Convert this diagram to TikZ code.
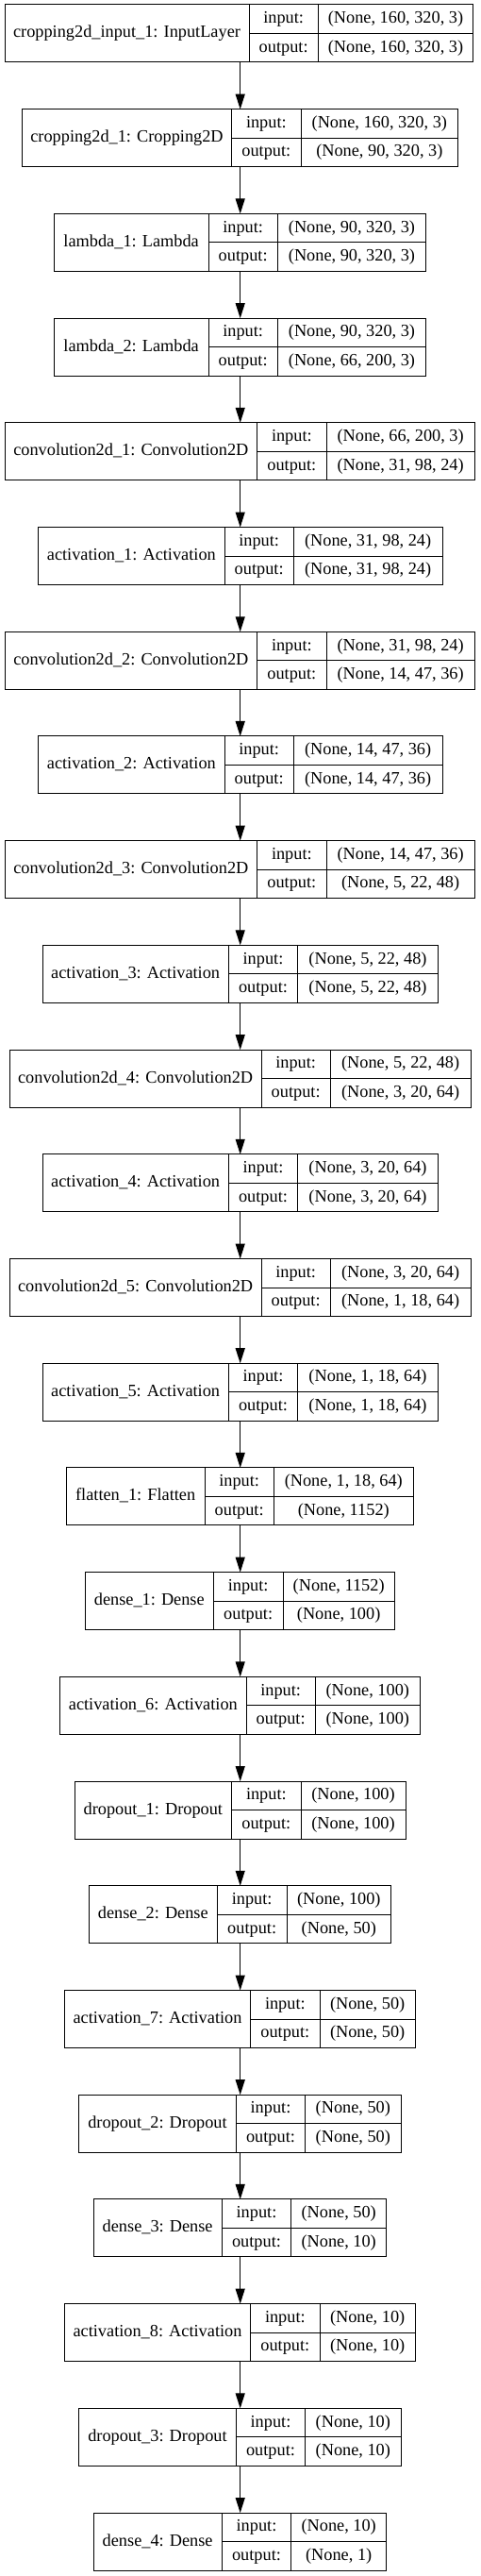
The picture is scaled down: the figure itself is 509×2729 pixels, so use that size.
\documentclass[tikz,border=0pt]{standalone}
\usepackage{fontspec}
\setmainfont{Liberation Serif}
\usetikzlibrary{arrows.meta}
\tikzset{
  box/.style={draw=black, line width=1pt, inner sep=0pt, outer sep=0pt, rectangle},
  cell/.style={inner sep=0pt, text height=13pt, text depth=4pt, font=\fontsize{18.3}{22}\selectfont},
  arr/.style={draw=black, line width=1pt, -{Triangle[length=16pt,width=10pt]}},
  sep/.style={draw=black, line width=1pt}
}
\newcommand\kLayer[8]{%
  \pgfmathsetmacro\ytop{5+110.71*#1}%
  \pgfmathsetmacro\ybot{\ytop+61}%
  \pgfmathsetmacro\ymid{\ytop+30.5}%
  \pgfmathsetmacro\bw{#5-#2}%
  \node[box, minimum width=\bw pt, minimum height=61pt] (L#1) at ({(#2+#5)/2}, \ymid) {};
  \draw[sep] (#3,\ytop) -- (#3,\ybot);
  \draw[sep] (#4,\ytop) -- (#4,\ybot);
  \draw[sep] (#3,\ymid) -- (#5,\ymid);
  \node[cell] (L#1-name) at ({(#2+#3)/2}, \ymid) {#6};
  \node[cell] (L#1-ilab) at ({(#3+#4)/2}, {\ytop+15.25}) {input:};
  \node[cell] (L#1-olab) at ({(#3+#4)/2}, {\ymid+15.25}) {output:};
  \node[cell] (L#1-in) at ({(#4+#5)/2}, {\ytop+15.25}) {#7};
  \node[cell] (L#1-out) at ({(#4+#5)/2}, {\ymid+15.25}) {#8};
}
\begin{document}
\begin{tikzpicture}[x=1pt, y=-1pt]
\useasboundingbox (0,0) rectangle (509,2729);
\fill[white] (0,0) rectangle (509,2729);
\coordinate (ax) at (254.7,0);
\kLayer{0}{5}{264}{337.3}{501.7}{cropping2d\_input\_1: InputLayer}{(None, 160, 320, 3)}{(None, 160, 320, 3)}
\kLayer{1}{23.3}{245.7}{319}{485.7}{cropping2d\_1: Cropping2D}{(None, 160, 320, 3)}{(None, 90, 320, 3)}
\kLayer{2}{57.3}{221}{294.3}{451.7}{lambda\_1: Lambda}{(None, 90, 320, 3)}{(None, 90, 320, 3)}
\kLayer{3}{57.3}{221}{294.3}{451.7}{lambda\_2: Lambda}{(None, 90, 320, 3)}{(None, 66, 200, 3)}
\kLayer{4}{5}{272.7}{346}{503.3}{convolution2d\_1: Convolution2D}{(None, 66, 200, 3)}{(None, 31, 98, 24)}
\kLayer{5}{40.7}{238}{311.3}{469}{activation\_1: Activation}{(None, 31, 98, 24)}{(None, 31, 98, 24)}
\kLayer{6}{5}{272.7}{346}{503.3}{convolution2d\_2: Convolution2D}{(None, 31, 98, 24)}{(None, 14, 47, 36)}
\kLayer{7}{40.7}{238}{311.3}{469}{activation\_2: Activation}{(None, 14, 47, 36)}{(None, 14, 47, 36)}
\kLayer{8}{5}{272.7}{346}{503.3}{convolution2d\_3: Convolution2D}{(None, 14, 47, 36)}{(None, 5, 22, 48)}
\kLayer{9}{45}{242.3}{315.7}{464.3}{activation\_3: Activation}{(None, 5, 22, 48)}{(None, 5, 22, 48)}
\kLayer{10}{10.3}{277}{350.3}{499}{convolution2d\_4: Convolution2D}{(None, 5, 22, 48)}{(None, 3, 20, 64)}
\kLayer{11}{45}{242.3}{315.7}{464.3}{activation\_4: Activation}{(None, 3, 20, 64)}{(None, 3, 20, 64)}
\kLayer{12}{10.3}{277}{350.3}{499}{convolution2d\_5: Convolution2D}{(None, 3, 20, 64)}{(None, 1, 18, 64)}
\kLayer{13}{45}{242.3}{315.7}{464.3}{activation\_5: Activation}{(None, 1, 18, 64)}{(None, 1, 18, 64)}
\kLayer{14}{70.3}{217}{290.3}{438.3}{flatten\_1: Flatten}{(None, 1, 18, 64)}{(None, 1152)}
\kLayer{15}{90.3}{226.3}{300}{418.3}{dense\_1: Dense}{(None, 1152)}{(None, 100)}
\kLayer{16}{63.7}{261}{334.3}{445.3}{activation\_6: Activation}{(None, 100)}{(None, 100)}
\kLayer{17}{79}{245.7}{319}{430}{dropout\_1: Dropout}{(None, 100)}{(None, 100)}
\kLayer{18}{94.3}{230.3}{304}{414.7}{dense\_2: Dense}{(None, 100)}{(None, 50)}
\kLayer{19}{68.3}{265.7}{339}{440.3}{activation\_7: Activation}{(None, 50)}{(None, 50)}
\kLayer{20}{83.7}{250.3}{323.7}{425}{dropout\_2: Dropout}{(None, 50)}{(None, 50)}
\kLayer{21}{99}{235.3}{308.7}{409.7}{dense\_3: Dense}{(None, 50)}{(None, 10)}
\kLayer{22}{68.3}{265.7}{339}{440.3}{activation\_8: Activation}{(None, 10)}{(None, 10)}
\kLayer{23}{83.7}{250.3}{323.7}{425}{dropout\_3: Dropout}{(None, 10)}{(None, 10)}
\kLayer{24}{99}{235.3}{308.7}{409.7}{dense\_4: Dense}{(None, 10)}{(None, 1)}
\foreach \i [evaluate=\i as \j using int(\i+1)] in {0,...,23}
  \draw[arr] (L\i.south -| ax) -- (L\j.north -| ax);
\end{tikzpicture}
\end{document}
